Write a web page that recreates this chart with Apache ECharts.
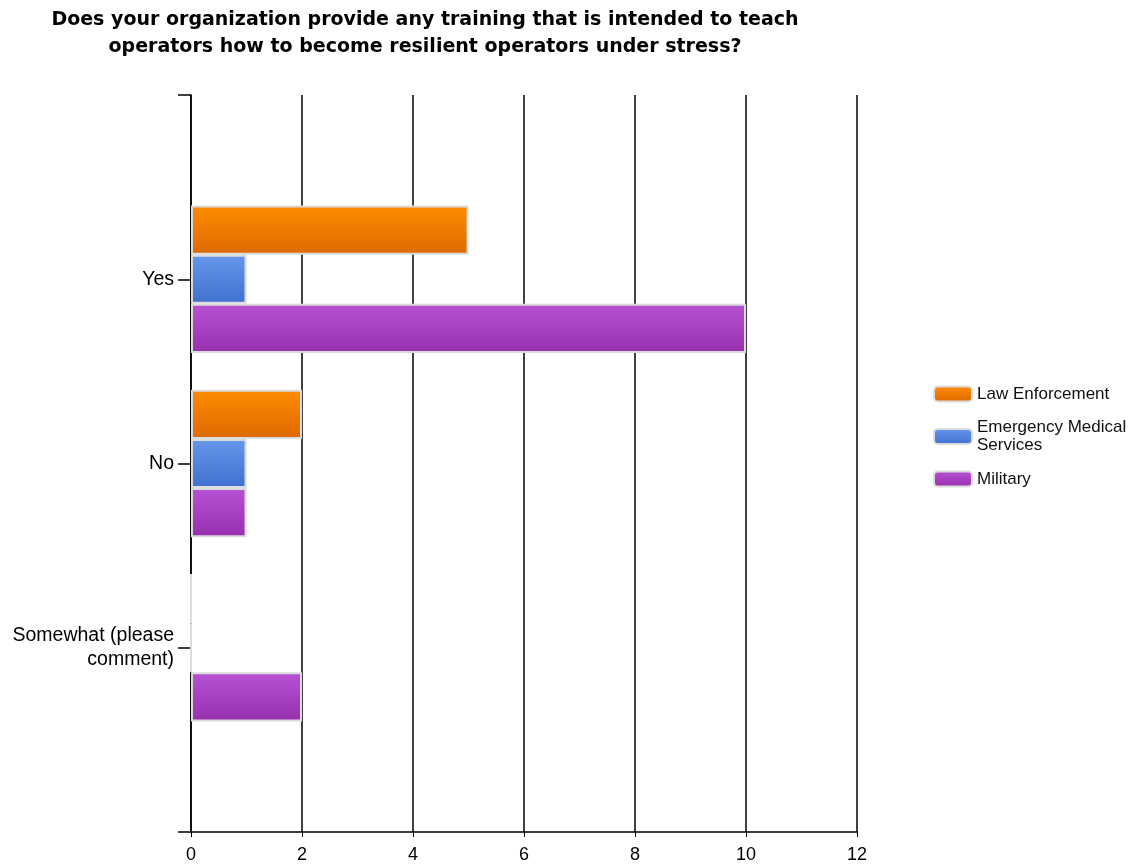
<!DOCTYPE html>
<html>
<head>
<meta charset="utf-8">
<script src="https://cdn.jsdelivr.net/npm/echarts@6/dist/echarts.min.js"></script>
<style>html,body{margin:0;padding:0;background:#fff}#c{width:1132px;height:867px}</style>
</head>
<body>
<div id="c"></div>
<script>
var categories = ['Yes', 'No', 'Somewhat (please\ncomment)'];
var seriesNames = ['Law Enforcement', 'Emergency Medical\nServices', 'Military'];
var lawEnforcement = [5, 2, 0];
var emergencyMedical = [1, 1, 0];
var military = [10, 1, 2];
var xTicks = [0, 2, 4, 6, 8, 10, 12];

var colors = [
  ['#ff8c00', '#dd6a00'],
  ['#6797ec', '#3f70cf'],
  ['#b652d3', '#9830ae']
];
function grad(c) {
  return {type: 'linear', x: 0, y: 0, x2: 0, y2: 1,
    colorStops: [{offset: 0, color: c[0]}, {offset: 1, color: c[1]}]};
}
function pad(arr) { return [null].concat(arr).concat([null]); }
var allData = [lawEnforcement, emergencyMedical, military];

var chart = echarts.init(document.getElementById('c'));
chart.setOption({
  backgroundColor: '#fff',
  animation: false,
  title: {
    text: 'Does your organization provide any training that is intended to teach\noperators how to become resilient operators under stress?',
    left: 420, top: 2, textAlign: 'center',
    textStyle: {fontFamily: 'DejaVu Sans', fontSize: 19, fontWeight: 'bold', color: '#000', lineHeight: 27}
  },
  legend: {
    orient: 'vertical', left: 928, top: 380,
    itemWidth: 38, itemHeight: 15, itemGap: 15.5,
    textStyle: {fontFamily: 'Liberation Sans, Arial', fontSize: 17, color: '#111', lineHeight: 18},
    data: seriesNames
  },
  grid: {left: 191, right: 275, top: 95, bottom: 35, containLabel: false},
  xAxis: {
    type: 'value', min: 0, max: 12, interval: 2,
    axisLine: {show: true, lineStyle: {color: '#000', width: 1.5}},
    axisTick: {show: true, length: 5, lineStyle: {color: '#000'}},
    axisLabel: {fontFamily: 'Liberation Sans, Arial', fontSize: 18, color: '#000', margin: 14,
      formatter: function (v) { return xTicks.indexOf(v) >= 0 ? String(v) : ''; }},
    splitLine: {show: true, lineStyle: {color: '#000', width: 1.5}}
  },
  yAxis: {
    type: 'category', inverse: true, boundaryGap: false,
    data: pad(categories).map(function (c) { return c === null ? '' : c; }),
    axisLine: {show: true, lineStyle: {color: '#000', width: 1.5}},
    axisTick: {show: true, length: 13, lineStyle: {color: '#000', width: 1.5}},
    axisLabel: {fontFamily: 'Liberation Sans, Arial', fontSize: 19.5, color: '#000', margin: 17, lineHeight: 24, align: 'right'},
    splitLine: {show: false}
  },
  series: seriesNames.map(function (n, i) {
    return {
      name: n, type: 'bar',
      data: pad(allData[i]),
      barGap: '0%', barCategoryGap: '20%',
      itemStyle: {color: grad(colors[i]), borderColor: '#dcdcdc', borderWidth: 2}
    };
  })
});
</script>
</body>
</html>
